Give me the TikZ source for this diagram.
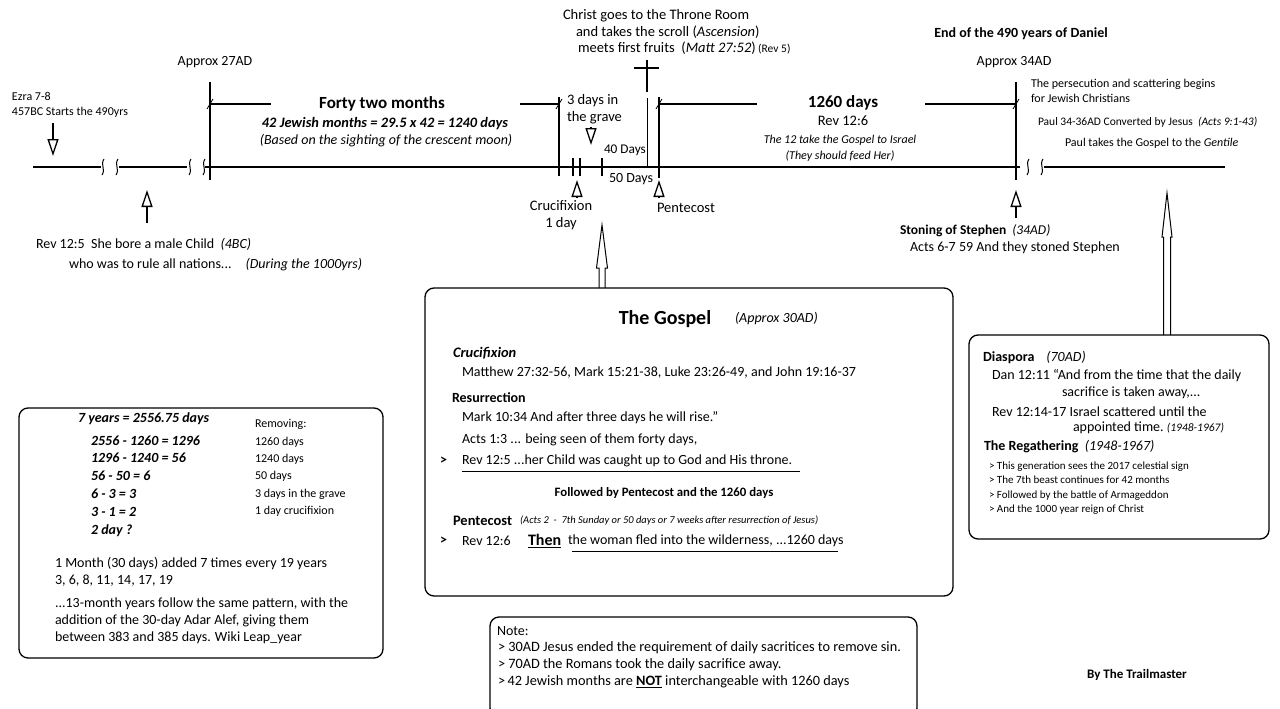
\documentclass[tikz,border=0pt]{standalone}
\usepackage{fontspec}
\setmainfont{Carlito}
\usetikzlibrary{arrows.meta,positioning,calc}
\newcommand\timebreak[1]{\draw[line width=1pt] (#1+1,159) .. controls (#1-3,165) and (#1+3,169) .. (#1-1,175);}

\begin{document}
\begin{tikzpicture}[x=1pt, y=-1pt,
    every node/.style={inner sep=0pt, outer sep=0pt},
    timeline/.style={line width=2pt},
    bar/.style={line width=2.2pt},
    bracket/.style={line width=1.3pt},
    tick/.style={line width=1.2pt},
    pointer/.style={line width=1.3pt, -{Triangle[open, length=17pt, width=11pt]}},
    hollow/.style={line width=1pt},
    infobox/.style={draw, line width=1.3pt, rounded corners=9pt, anchor=north west},
    txt/.style={font=\fontsize{14}{17}\selectfont},
    lbl/.style={font=\fontsize{14.5}{17}\selectfont},
    sml/.style={font=\fontsize{12}{15}\selectfont},
    head/.style={font=\fontsize{17}{20}\selectfont\bfseries},
    lft/.style={anchor=west, align=left}
]
    \fill[white] (0,0) rectangle (1280,709);
    \useasboundingbox (0,0) rectangle (1280,709);

    % time line
    \draw[timeline] (33,167) -- (101,167);
    \draw[timeline] (119,167) -- (187,167);
    \draw[timeline] (205,167) -- (1020,167);
    \draw[timeline] (1044,167) -- (1225,167);
    \timebreak{103} \timebreak{117} \timebreak{190} \timebreak{204}
    \timebreak{1028} \timebreak{1042}

    % 27AD and 34AD
    \coordinate (t27) at (210,167);
    \coordinate (t34) at (1016,167);
    \draw[bar] (210,82) -- (210,180);
    \draw[bar] (1016,82) -- (1016,180);
    \node[txt] (a27) at (215,62) {Approx 27AD};
    \node[txt] (a34) at (1014,62) {Approx 34AD};
    \node[font=\fontsize{14}{16}\selectfont\bfseries] (end490) at (1021,34) {End of the 490 years of Daniel};

    % brackets
    \draw[bracket] (210,104) -- (271,104);
    \draw[bracket] (520,104) -- (559,104);
    \draw[bracket] (559,97) -- (559,176);
    \draw[bracket] (659,97) -- (659,178);
    \draw[bracket] (659,104) -- (757,104);
    \draw[bracket] (925,104) -- (1016,104);
    \foreach \x in {210,559,659,1016}
        \draw[line width=0.8pt] (\x-3,109) -- (\x+3,99);

    % ticks at the crucifixion
    \foreach \x in {573,580,602}
        \draw[tick] (\x,158) -- (\x,176);
    \draw[line width=0.5pt] (647,98) -- (647,167);

    % cross
    \draw[bar] (647,60) -- (647,92);
    \draw[bar] (634,68) -- (659,68);

    % texts over the line
    \node[sml, lft] (ezra) at (12,105) {Ezra 7-8\\457BC Starts the 490yrs};
    \node[head] (forty) at (382,104) {Forty two months};
    \node[font=\fontsize{14.4}{17}\selectfont\bfseries\itshape] (jewish) at (385,124) {42 Jewish months = 29.5 x 42 = 1240 days};
    \node[font=\fontsize{14}{17}\selectfont\itshape] (crescent) at (386,141) {(Based on the sighting of the crescent moon)};
    \node[lbl, lft] (grave) at (567,109) {3 days in\\the grave};
    \node[lbl, lft] (throne1) at (563,16) {Christ goes to the Throne Room};
    \node[lbl, lft] (throne2) at (576,32) {and takes the scroll (\textit{Ascension})};
    \node[lbl, lft] (throne3) at (578,48) {meets first fruits\ \ (\textit{Matt 27:52})\,{\fontsize{11.5}{13}\selectfont(Rev 5)}};
    \node[font=\fontsize{13.3}{16}\selectfont, lft] (days40) at (604,150) {40 Days};
    \node[txt, lft] (days50) at (609,179) {50 Days};
    \node[head] (d1260) at (843,103) {1260 days};
    \node[lbl] (rev126) at (843,121) {Rev 12:6};
    \node[font=\fontsize{12}{16}\selectfont\itshape, align=center] (twelve) at (840,148) {The 12 take the Gospel to Israel\\(They should feed Her)};
    \node[sml, lft] (persec) at (1031,91) {The persecution and scattering begins\\for Jewish Christians};
    \node[font=\fontsize{11.5}{14}\selectfont, lft] (paul1) at (1038,122) {Paul 34-36AD Converted by Jesus\ \ \textit{(Acts 9:1-43)}};
    \node[sml, lft] (paul2) at (1065,143) {Paul takes the Gospel to the \textit{Gentile}};

    % texts under the line
    \node[lbl, align=center] (cruc) at (561,215) {Crucifixion\\1 day};
    \node[lbl, lft] (pent) at (657,208) {Pentecost};
    \node[txt, lft] (child1) at (36,244) {Rev 12:5\ \ She bore a male Child\ \ \textit{(4BC)}};
    \node[txt, lft] (child2) at (69,265) {who was to rule all nations...\quad\textit{(During the 1000yrs)}};
    \node[font=\fontsize{13.5}{16}\selectfont, lft] (stoning) at (900,231) {\textbf{Stoning of Stephen}\ \ \textit{(34AD)}};
    \node[txt, lft] (acts67) at (910,248) {Acts 6-7 59 And they stoned Stephen};

    % pointers
    \draw[pointer] (53,123) -- (53,156);
    \draw[pointer] (147,223) -- (147,190);
    \draw[pointer] (591,127) -- (591,145);
    \draw[pointer] (577,198) -- (577,180);
    \draw[pointer] (659,198) -- (659,180);
    \draw[pointer] (1016,218) -- (1016,190);

    % The Gospel
    \node[infobox, minimum width=528pt, minimum height=308pt] (gospel) at (425,288) {};
    \draw[hollow] (599,288) -- (599,268) -- (596.5,268) -- (602,225) -- (607.5,268) -- (605,268) -- (605,288);
    \node[font=\fontsize{20}{24}\selectfont\bfseries] (gtitle) at (665,319) {The Gospel};
    \node[lft, font=\fontsize{14}{16}\selectfont\itshape] (g30) at (735,319) {(Approx 30AD)};
    \node[lft, font=\fontsize{14.5}{16}\selectfont\bfseries\itshape] (gcruc) at (453,353) {Crucifixion};
    \node[txt, lft] (gmatt) at (462,373) {Matthew 27:32-56, Mark 15:21-38, Luke 23:26-49, and John 19:16-37};
    \node[lft, font=\fontsize{14}{16}\selectfont\bfseries] (gres) at (452,398) {Resurrection};
    \node[txt, lft] (gmark) at (462,418) {Mark 10:34 And after three days he will rise.”};
    \node[txt, lft] (gacts) at (462,440) {Acts 1:3 ... being seen of them forty days,};
    \node[txt, lft] (gmark1) at (440,461) {\textbf{>}};
    \node[txt, lft] (grev5) at (462,461) {Rev 12:5 ...her Child was caught up to God and His throne.};
    \draw[line width=0.6pt] (462,471) -- (800,471);
    \node[font=\fontsize{12.8}{15}\selectfont\bfseries] (gfollow) at (664,493) {Followed by Pentecost and the 1260 days};
    \node[lft, font=\fontsize{14.5}{16}\selectfont\bfseries] (gpent) at (453,521) {Pentecost};
    \node[lft, font=\fontsize{10.5}{12}\selectfont\itshape] (gacts2) at (520,521) {(Acts 2\ \ -\ \ 7th Sunday or 50 days or 7 weeks after resurrection of Jesus)};
    \node[txt, lft] (gmark2) at (440,541) {\textbf{>}};
    \node[txt, lft] (grev6) at (462,541) {Rev 12:6};
    \node[lft, font=\fontsize{16}{18}\selectfont\bfseries] (gthen) at (528,541) {\underline{Then}};
    \node[txt, lft] (gfled) at (568,541) {the woman fled into the wilderness, ...1260 days};
    \draw[line width=0.6pt] (572,551) -- (838,551);

    % Diaspora
    \node[infobox, minimum width=300pt, minimum height=204pt] (diaspora) at (969,335) {};
    \draw[hollow] (1163.5,335) -- (1163.5,237) -- (1162,237) -- (1167,193) -- (1172,237) -- (1170.5,237) -- (1170.5,335);
    \node[lft, font=\fontsize{14}{16}\selectfont] (dtitle) at (983,357) {\textbf{Diaspora}\hspace{12pt}\textit{(70AD)}};
    \node[txt, lft] (ddan) at (992,376) {Dan 12:11 “And from the time that the daily};
    \node[txt, lft] (dsac) at (1062,393) {sacrifice is taken away,...};
    \node[txt, lft] (drev) at (992,412) {Rev 12:14-17 Israel scattered until the};
    \node[txt, lft] (dapp) at (1073,428) {appointed time.\ {\fontsize{11.5}{13}\selectfont\itshape(1948-1967)}};
    \node[lft, font=\fontsize{14}{16}\selectfont] (dregath) at (984,447) {\textbf{The Regathering}\ \ \textit{(1948-1967)}};
    \node[font=\fontsize{11}{14.5}\selectfont, lft] (dlist) at (989,488) {> This generation sees the 2017 celestial sign\\> The 7th beast continues for 42 months\\> Followed by the battle of Armageddon\\> And the 1000 year reign of Christ};

    % 7 years
    \node[infobox, minimum width=364pt, minimum height=250pt] (years) at (19,408) {};
    \node[lft, font=\fontsize{14}{17}\selectfont\bfseries\itshape] (y7) at (78,419) {7 years = 2556.75 days};
    \node[lft, font=\fontsize{14}{17.8}\selectfont\bfseries\itshape] (ycalc) at (91,486) {2556 - 1260 = 1296\\1296 - 1240 = 56\\56 - 50 = 6\\6 - 3 = 3\\3 - 1 = 2\\2 day ?};
    \node[lft, font=\fontsize{12}{17.4}\selectfont] (yremove) at (255,468) {Removing:\\1260 days\\1240 days\\50 days\\3 days in the grave\\1 day crucifixion};
    \node[txt, lft] (ymonth) at (55,572) {1 Month (30 days) added 7 times every 19 years\\3, 6, 8, 11, 14, 17, 19};
    \node[txt, lft] (yleap) at (55,621) {...13-month years follow the same pattern, with the\\addition of the 30-day Adar Alef, giving them\\between 383 and 385 days. Wiki Leap\_year};

    % Note
    \node[infobox, minimum width=427pt, minimum height=100pt] (note) at (490,617) {};
    \node[txt, lft] (nhead) at (497,631) {Note:};
    \node[font=\fontsize{14.3}{17}\selectfont, lft] (nlist) at (498,665) {> 30AD Jesus ended the requirement of daily sacritices to remove sin.\\> 70AD the Romans took the daily sacrifice away.\\>\,42 Jewish months are \underline{\textbf{NOT}} interchangeable with 1260 days};

    \node[font=\fontsize{13}{15}\selectfont\bfseries] (author) at (1137,675) {By The Trailmaster};
\end{tikzpicture}
\end{document}
